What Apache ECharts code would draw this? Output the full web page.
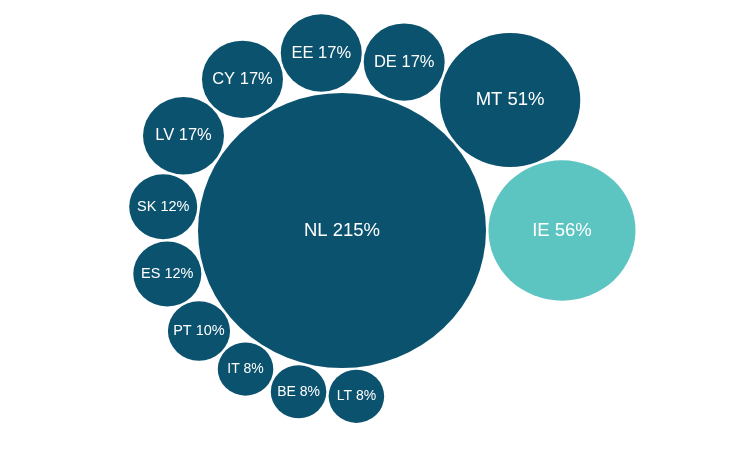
<!DOCTYPE html>
<html>
<head>
    <meta charset="utf-8" />
    <title></title>
    <style>
        html, body { margin: 0; padding: 0; background: #fff; }
    </style>
</head>
<body>
    <div id="main" style="width:756px;height:450px"></div>
    <script src="https://cdn.jsdelivr.net/npm/echarts@6/dist/echarts.min.js"></script>
    <script type="text/javascript">
        // data
        var countries = ['NL', 'IE', 'MT', 'DE', 'EE', 'CY', 'LV', 'SK', 'ES', 'PT', 'IT', 'BE', 'LT'];
        var values = [215, 56, 51, 17, 17, 17, 17, 12, 12, 10, 8, 8, 8];
        var highlighted = ['IE'];

        // layout: biggest bubble in the middle, the rest placed round it, each touching the previous one
        var maxR = 144;     // radius of the biggest bubble (px)
        var gap = 2.5;
        var ky = 0.955;     // the picture is a bit squashed vertically
        var cx = 342, cy = 230.5;

        function radius(v) {
            return maxR * Math.sqrt(v / values[0]);
        }

        var pts = [[0, 0]];
        var ang = 0;
        for (var i = 1; i < values.length; i++) {
            var r = radius(values[i]);
            if (i > 1) {
                var rp = radius(values[i - 1]);
                var a = maxR + rp + gap, b = maxR + r + gap, c = rp + r + gap;
                ang -= Math.acos((a * a + b * b - c * c) / (2 * a * b));
            }
            var d = maxR + r + gap;
            pts.push([d * Math.cos(ang), d * Math.sin(ang)]);
        }

        var data = countries.map(function (name, i) {
            var r = radius(values[i]);
            var fs = r > 60 ? 18.5 : (r > 38 ? 16.5 : (r > 30 ? 14.5 : 14));
            return {
                name: name,
                value: [pts[i][0], pts[i][1], values[i]],
                symbolSize: [2 * r, 2 * r * ky],
                itemStyle: { color: highlighted.indexOf(name) >= 0 ? '#5cc4c1' : '#0b526e', opacity: 1 },
                label: { fontSize: fs }
            };
        });

        var myChart = echarts.init(document.getElementById('main'));
        var option = {
            backgroundColor: '#fff',
            animation: false,
            grid: { left: 0, right: 0, top: 0, bottom: 0 },
            xAxis: { type: 'value', min: -cx, max: 756 - cx, show: false },
            yAxis: { type: 'value', min: -cy / ky, max: (450 - cy) / ky, inverse: true, show: false },
            series: [{
                type: 'scatter',
                symbol: 'circle',
                data: data,
                label: {
                    show: true,
                    position: 'inside',
                    color: '#fff',
                    fontFamily: 'Liberation Sans, Arial, sans-serif',
                    formatter: function (p) {
                        return p.name + ' ' + p.value[2] + '%';
                    }
                },
                emphasis: { disabled: true }
            }]
        };
        myChart.setOption(option);
    </script>
</body>
</html>
